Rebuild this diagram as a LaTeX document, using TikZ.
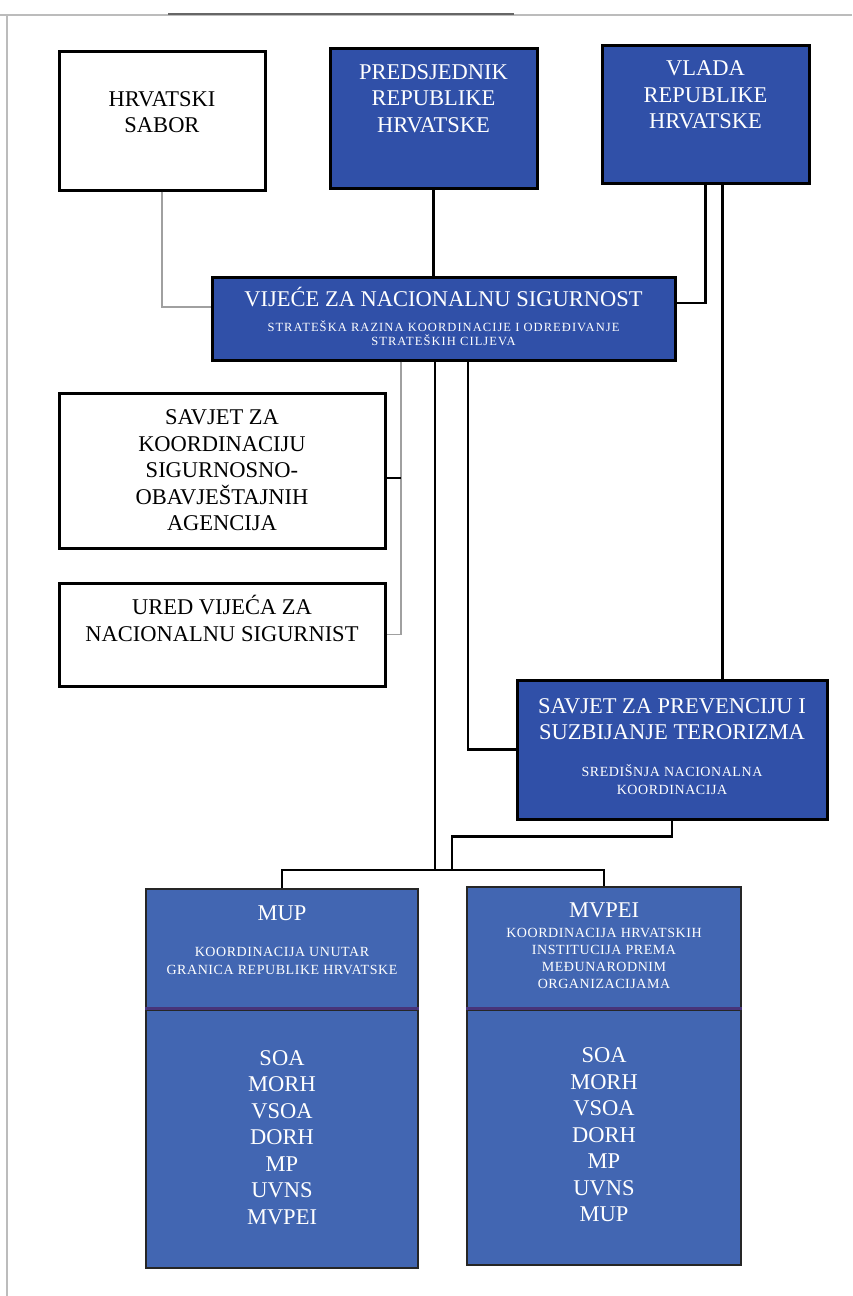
\documentclass[tikz,border=0pt]{standalone}
\usepackage{fontspec}
\setmainfont{Liberation Serif}
\definecolor{topblue}{RGB}{48,80,168}
\definecolor{lowblue}{RGB}{66,102,178}
\definecolor{linkgray}{RGB}{160,160,160}
\definecolor{splitline}{RGB}{72,52,122}

\begin{document}
\begin{tikzpicture}[x=1pt,y=-1pt,
    plainbox/.style={draw,line width=3pt,fill=white,inner sep=0pt},
    bluebox/.style={draw,line width=3pt,fill=topblue,inner sep=0pt},
    lowbox/.style={draw=black!85,line width=2.5pt,fill=lowblue,inner sep=0pt},
    bigtext/.style={align=center,font=\fontsize{22.5}{26.5}\selectfont},
    smalltext/.style={align=center,font=\fontsize{14}{18}\selectfont\addfontfeature{LetterSpace=4}},
    tinytext/.style={align=center,font=\fontsize{12.5}{14}\selectfont\addfontfeature{LetterSpace=8.5}},
    link/.style={line width=2.2pt},
    greylink/.style={line width=1.5pt,draw=linkgray}]

    \useasboundingbox (0,0) rectangle (852,1296);

    % edge of the scanned page
    \draw[linkgray!70,line width=1.2pt] (0,15) -- (852,15);
    \draw[black!60,line width=2pt] (168,14) -- (514,14);
    \draw[linkgray!70,line width=1.2pt] (7,15) -- (7,1296);

    % top row
    \node[plainbox,minimum width=206pt,minimum height=139pt] (sabor) at (162,120.5) {};
    \node[bluebox,minimum width=207pt,minimum height=140pt] (predsjednik) at (433.5,118) {};
    \node[bluebox,minimum width=207pt,minimum height=138pt] (vlada) at (705.5,114) {};
    \node[bigtext] (sabortxt) at (162,112) {HRVATSKI\\SABOR};
    \node[bigtext,text=white] (predtxt) at (433.5,98.5) {PREDSJEDNIK\\REPUBLIKE\\HRVATSKE};
    \node[bigtext,text=white] (vladatxt) at (705.5,95) {VLADA\\REPUBLIKE\\HRVATSKE};

    % vijece
    \node[bluebox,minimum width=463pt,minimum height=83pt] (vijece) at (443.5,318.5) {};
    \node[bigtext,text=white] (vijecetxt) at (443.5,297) {VIJEĆE ZA NACIONALNU SIGURNOST};
    \node[tinytext,text=white] (vijecesub) at (443.5,333.5) {STRATEŠKA RAZINA KOORDINACIJE I ODREĐIVANJE\\STRATEŠKIH CILJEVA};

    % left column
    \node[plainbox,bigtext,minimum width=326pt,minimum height=155pt] (koord) at (222,470.5) {SAVJET ZA\\KOORDINACIJU\\SIGURNOSNO-\\OBAVJEŠTAJNIH\\AGENCIJA};
    \node[plainbox,minimum width=326pt,minimum height=103pt] (ured) at (222,634.5) {};
    \node[bigtext] (uredtxt) at (222,618.5) {URED VIJEĆA ZA\\NACIONALNU SIGURNIST};

    % prevencija
    \node[bluebox,minimum width=310pt,minimum height=139pt] (prevencija) at (672,749.5) {};
    \node[bigtext,text=white] (prevtxt) at (672,719) {SAVJET ZA PREVENCIJU I\\SUZBIJANJE TERORIZMA};
    \node[smalltext,text=white] (prevsub) at (672,780) {SREDIŠNJA NACIONALNA\\KOORDINACIJA};

    % ministries
    \node[lowbox,minimum width=272pt,minimum height=121pt] (muphead) at (282,949.5) {};
    \node[lowbox,minimum width=272pt,minimum height=258pt] (mupbody) at (282,1139) {};
    \node[lowbox,minimum width=274pt,minimum height=123pt] (mvpeihead) at (604,948.5) {};
    \node[lowbox,minimum width=274pt,minimum height=255pt] (mvpeibody) at (604,1137.5) {};
    \draw[splitline,line width=3pt] (mupbody.north west) -- (mupbody.north east);
    \draw[splitline,line width=3pt] (mvpeibody.north west) -- (mvpeibody.north east);

    \node[bigtext,text=white] (muptxt) at (282,913) {MUP};
    \node[smalltext,text=white] (mupsub) at (282,961) {KOORDINACIJA UNUTAR\\GRANICA REPUBLIKE HRVATSKE};
    \node[bigtext,text=white] (muplist) at (282,1137.5) {SOA\\MORH\\VSOA\\DORH\\MP\\UVNS\\MVPEI};
    \node[bigtext,text=white] (mvpeitxt) at (604,910) {MVPEI};
    \node[smalltext,font=\fontsize{14}{17}\selectfont\addfontfeature{LetterSpace=4},text=white] (mvpeisub) at (604,958.5) {KOORDINACIJA HRVATSKIH\\INSTITUCIJA PREMA\\MEĐUNARODNIM\\ORGANIZACIJAMA};
    \node[bigtext,text=white] (mvpeilist) at (604,1135) {SOA\\MORH\\VSOA\\DORH\\MP\\UVNS\\MUP};

    % connectors
    \coordinate (vladadrop) at ([xshift=17pt]vlada.south);
    \coordinate (staffdrop) at ([xshift=-42.5pt]vijece.south);
    \coordinate (mindrop) at ([xshift=-8.5pt]vijece.south);
    \coordinate (terdrop) at ([xshift=24.5pt]vijece.south);
    \coordinate (koordlink) at ([yshift=-7.5pt]koord.east);
    \coordinate (bar) at ([yshift=18pt]muphead.north);

    \draw[greylink] (sabor.south) |- ([yshift=11.5pt]vijece.west);
    \draw[link] (predsjednik.south) -- (predsjednik.south |- vijece.north);
    \draw[link] (vlada.south) |- ([yshift=15.5pt]vijece.east);
    \draw[link] (vladadrop) -- (vladadrop |- prevencija.north);
    \draw[greylink] (staffdrop) |- (ured.east);
    \draw[link] (koordlink) -- (koordlink -| staffdrop);
    \draw[link] (mindrop) -- (mindrop |- bar);
    \draw[link] (terdrop) |- (prevencija.west);
    \draw[link] (muphead.north) -- (bar) -| (mvpeihead.north);
    \draw[link] (prevencija.south) -- ++(0,16) -| ([xshift=170pt]bar);
\end{tikzpicture}
\end{document}
